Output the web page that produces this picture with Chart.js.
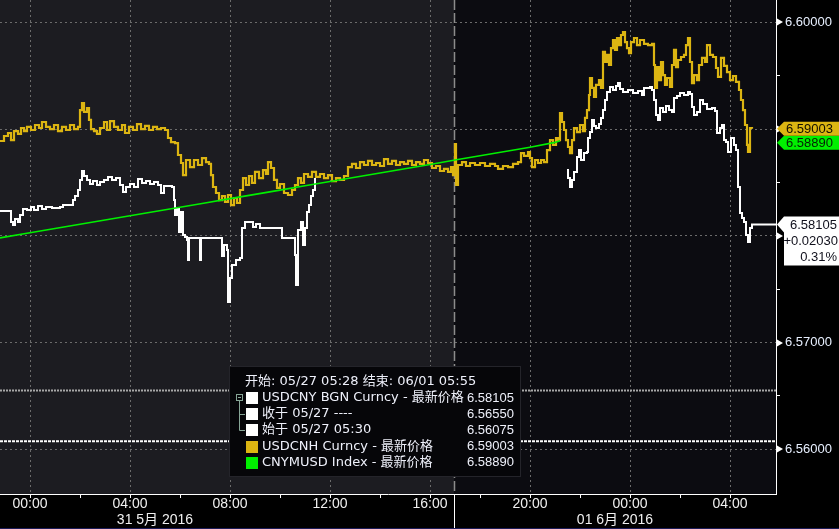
<!DOCTYPE html>
<html>
<head>
<meta charset="utf-8">
<script src="https://cdn.jsdelivr.net/npm/chart.js@4.4.1/dist/chart.umd.min.js"></script>
<style>
  html, body { margin: 0; padding: 0; background: #000; }
  canvas { display: block; }
</style>
</head>
<body>
<canvas id="chart" width="839" height="529"></canvas>
<script>
// time axis: hours from 05/31 00:00 (chart local time)
const xMin = -1.2;
const xMax = 29.84;
const yMin = 6.555811;
const yMax = 6.602089;
const sessionSplit = 16.96; // 16:58, start of the darker session

// USDCNH Curncy (gold)
const cnhTime = [
  -1.20,-1.04,-0.88,-0.76,-0.64,-0.48,-0.36,-0.24,-0.12,0.04,
  0.20,0.36,0.48,0.64,0.80,0.96,1.12,1.28,1.44,1.60,
  1.76,1.92,2.00,2.08,2.16,2.28,2.36,2.44,2.56,2.68,
  2.80,2.96,3.08,3.20,3.36,3.52,3.68,3.80,3.96,4.12,
  4.28,4.44,4.60,4.76,4.92,5.08,5.24,5.40,5.52,5.64,
  5.80,5.92,6.04,6.12,6.24,6.40,6.56,6.72,6.88,7.04,
  7.16,7.24,7.32,7.44,7.56,7.68,7.80,7.92,8.04,8.16,
  8.28,8.40,8.52,8.64,8.76,8.88,9.00,9.16,9.32,9.44,
  9.52,9.64,9.76,9.88,10.00,10.16,10.32,10.48,10.60,10.72,
  10.84,10.96,11.12,11.28,11.44,11.60,11.76,11.92,12.08,12.24,
  12.40,12.56,12.72,12.88,13.04,13.20,13.36,13.52,13.68,13.84,
  14.00,14.16,14.32,14.48,14.64,14.80,14.96,15.12,15.28,15.44,
  15.60,15.76,15.92,16.08,16.24,16.40,16.56,16.72,16.84,16.92,
  17.00,17.04,17.12,17.28,17.44,17.60,17.80,18.00,18.20,18.40,
  18.60,18.72,18.92,19.12,19.32,19.52,19.64,19.76,19.92,20.00,
  20.08,20.20,20.32,20.44,20.56,20.68,20.80,20.92,21.04,21.12,
  21.20,21.28,21.36,21.44,21.52,21.60,21.68,21.76,21.88,22.00,
  22.12,22.20,22.28,22.36,22.40,22.48,22.56,22.64,22.76,22.84,
  22.92,23.00,23.08,23.16,23.24,23.32,23.40,23.48,23.56,23.64,
  23.72,23.80,23.88,23.96,24.04,24.16,24.28,24.40,24.56,24.72,
  24.88,24.96,25.00,25.08,25.16,25.24,25.32,25.40,25.48,25.60,
  25.68,25.76,25.84,25.92,26.04,26.16,26.24,26.32,26.40,26.48,
  26.56,26.68,26.76,26.88,27.00,27.08,27.20,27.32,27.44,27.52,
  27.64,27.76,27.88,28.00,28.12,28.24,28.36,28.44,28.52,28.60,
  28.68,28.72,28.80,28.88
];
const cnhValue = [
  6.58888,6.58935,6.58963,6.58897,6.58981,6.58954,6.59010,6.58981,6.59020,6.58991,
  6.59038,6.59010,6.59066,6.59020,6.59000,6.59038,6.58981,6.59020,6.58991,6.59038,
  6.59000,6.59020,6.59178,6.59244,6.59160,6.59197,6.59085,6.59000,6.58981,6.58954,
  6.59010,6.59066,6.58991,6.59075,6.59020,6.58991,6.59038,6.58963,6.59020,6.58991,
  6.59047,6.59000,6.59029,6.58991,6.59020,6.59000,6.59010,6.58991,6.58916,6.58878,
  6.58869,6.58757,6.58682,6.58569,6.58710,6.58644,6.58710,6.58663,6.58728,6.58691,
  6.58673,6.58569,6.58457,6.58401,6.58335,6.58373,6.58317,6.58382,6.58288,6.58354,
  6.58307,6.58429,6.58541,6.58476,6.58560,6.58495,6.58598,6.58541,6.58616,6.58579,
  6.58691,6.58635,6.58523,6.58448,6.58485,6.58401,6.58382,6.58429,6.58476,6.58541,
  6.58495,6.58579,6.58551,6.58598,6.58551,6.58579,6.58541,6.58569,6.58513,6.58541,
  6.58523,6.58560,6.58644,6.58673,6.58635,6.58691,6.58663,6.58701,6.58663,6.58682,
  6.58654,6.58719,6.58673,6.58701,6.58663,6.58691,6.58673,6.58701,6.58663,6.58691,
  6.58673,6.58710,6.58682,6.58635,6.58654,6.58607,6.58626,6.58598,6.58644,6.58569,
  6.58860,6.58476,6.58663,6.58691,6.58654,6.58682,6.58663,6.58682,6.58654,6.58673,
  6.58654,6.58626,6.58654,6.58644,6.58673,6.58691,6.58775,6.58748,6.58785,6.58728,
  6.58644,6.58710,6.58682,6.58710,6.58691,6.58803,6.58897,6.58851,6.58916,6.58897,
  6.59150,6.59066,6.58991,6.58897,6.58832,6.58775,6.58897,6.59010,6.58972,6.59038,
  6.58981,6.59104,6.59178,6.59319,6.59478,6.59385,6.59300,6.59413,6.59459,6.59385,
  6.59722,6.59628,6.59694,6.59600,6.59759,6.59834,6.59741,6.59853,6.59787,6.59881,
  6.59909,6.59815,6.59759,6.59712,6.59815,6.59853,6.59787,6.59834,6.59797,6.59787,
  6.59797,6.59600,6.59385,6.59581,6.59459,6.59628,6.59506,6.59413,6.59478,6.59394,
  6.59600,6.59741,6.59581,6.59647,6.59675,6.59694,6.59787,6.59853,6.59628,6.59431,
  6.59506,6.59459,6.59600,6.59666,6.59628,6.59787,6.59694,6.59675,6.59572,6.59488,
  6.59666,6.59591,6.59534,6.59459,6.59497,6.59441,6.59366,6.59272,6.59178,6.59038,
  6.58851,6.58785,6.59010,6.59003
];

// USDCNY BGN Curncy (white), null = onshore market closed
const cnyTime = [
  -1.20,-0.80,-0.76,-0.68,-0.60,-0.48,-0.40,-0.28,-0.12,0.04,
  0.16,0.32,0.48,0.64,0.88,1.20,1.32,1.60,1.72,1.80,
  1.92,2.00,2.08,2.16,2.28,2.40,2.52,2.68,2.80,2.96,
  3.12,3.28,3.44,3.60,3.72,3.84,4.00,4.16,4.32,4.48,
  4.64,4.80,4.96,5.12,5.24,5.36,5.52,5.68,5.76,5.80,
  5.88,5.96,6.04,6.12,6.20,6.28,6.32,6.36,6.76,6.80,
  6.84,7.64,7.68,7.76,7.88,7.92,8.00,8.08,8.24,8.40,
  8.48,8.60,8.88,8.92,9.04,9.20,10.00,10.08,10.52,10.60,
  10.64,10.72,10.84,10.92,11.00,11.08,11.16,11.24,11.32,11.40,
  16.00,21.48,21.52,21.60,21.68,21.76,21.88,21.96,22.04,22.16,
  22.28,22.32,22.40,22.48,22.56,22.64,22.76,22.84,22.92,23.00,
  23.08,23.20,23.32,23.44,23.52,23.60,23.72,23.92,24.12,24.32,
  24.48,24.56,24.80,24.88,24.96,25.04,25.12,25.20,25.32,25.44,
  25.56,25.68,25.76,25.88,26.00,26.16,26.32,26.40,26.48,26.56,
  26.68,26.80,26.92,27.08,27.28,27.40,27.48,27.60,27.68,27.76,
  27.84,27.92,28.04,28.16,28.24,28.32,28.40,28.48,28.56,28.64,
  28.72,28.80,28.88,29.84
];
const cnyValue = [
  6.58232,6.58232,6.58129,6.58101,6.58157,6.58129,6.58195,6.58251,6.58242,6.58270,
  6.58242,6.58279,6.58251,6.58270,6.58260,6.58270,6.58288,6.58288,6.58335,6.58373,
  6.58429,6.58523,6.58607,6.58560,6.58523,6.58485,6.58513,6.58476,6.58504,6.58523,
  6.58551,6.58523,6.58541,6.58476,6.58410,6.58457,6.58485,6.58457,6.58532,6.58495,
  6.58513,6.58485,6.58504,6.58476,6.58401,6.58467,6.58467,6.58457,6.58335,6.58195,
  6.58260,6.58036,6.58223,6.58007,6.57989,6.57961,6.57773,6.57979,6.57979,6.57773,
  6.57979,6.57979,6.57811,6.57914,6.57867,6.57380,6.57605,6.57726,6.57773,6.57792,
  6.58073,6.58129,6.58129,6.58082,6.58110,6.58073,6.58073,6.57979,6.57979,6.57820,
  6.57539,6.58054,6.58129,6.57914,6.58073,6.58223,6.58288,6.58373,6.58429,6.58541,
  null,6.58616,6.58541,6.58457,6.58523,6.58598,6.58738,6.58803,6.58710,6.58775,
  6.58785,6.58916,6.58972,6.59085,6.59029,6.59010,6.59047,6.59104,6.59178,6.59272,
  6.59347,6.59394,6.59366,6.59403,6.59431,6.59375,6.59347,6.59366,6.59338,6.59356,
  6.59319,6.59385,6.59394,6.59366,6.59272,6.59132,6.59085,6.59197,6.59160,6.59216,
  6.59178,6.59160,6.59291,6.59310,6.59338,6.59319,6.59347,6.59328,6.59206,6.59132,
  6.59160,6.59272,6.59235,6.59188,6.59197,6.59169,6.58963,6.59010,6.59038,6.58897,
  6.58878,6.58785,6.58916,6.58851,6.58803,6.58457,6.58213,6.58167,6.58129,6.58007,
  6.57942,6.58073,6.58105,6.58105
];

// CNYMUSD Index (green)
const cnymTime = [-1.2, 0, 1, 2, 3, 4, 5, 6, 7, 8, 9, 10, 11, 12, 13, 14, 15, 16, 17, 18, 19, 20, 21, 21.2];
const cnymValue = [
  6.57980, 6.58028, 6.58068, 6.58108, 6.58148, 6.58188, 6.58228, 6.58268, 6.58308, 6.58348,
  6.58388, 6.58428, 6.58468, 6.58508, 6.58548, 6.58588, 6.58628, 6.58668, 6.58710, 6.58750,
  6.58790, 6.58830, 6.58875, 6.58890
];

// USDCNY reference levels
const cnyClose = 6.56550; // 收于 05/27
const cnyStart = 6.56075; // 始于 05/27 05:30

const legendHeader = '开始: 05/27 05:28 结束: 06/01 05:55';
const legendNames = [
  'USDCNY BGN Curncy - 最新价格',
  '收于 05/27 ----',
  '始于 05/27 05:30',
  'USDCNH Curncy - 最新价格',
  'CNYMUSD Index - 最新价格'
];
const dateLabels = ['31 5月 2016', '01 6月 2016'];
const dateLabelAt = [5.0, 23.4];

const FONT = '"Liberation Sans", Arial, "Noto Sans CJK SC", sans-serif';
const LEGEND_FONT = '"DejaVu Sans", "Noto Sans CJK SC", sans-serif';
const GOLD = '#dcb512';
const GREEN = '#00f000';

const pts = (t, v) => t.map((x, i) => ({ x: x, y: v[i] }));
const last = arr => arr[arr.length - 1];
const isMajorY = v => Math.abs(v * 100 - Math.round(v * 100)) < 1e-6;
const hh = v => {
  const h = ((Math.round(v) % 24) + 24) % 24;
  return (h < 10 ? '0' : '') + h + ':00';
};

function tag(ctx, yc, fill, text, color) {
  ctx.fillStyle = fill;
  ctx.beginPath();
  ctx.moveTo(777, yc);
  ctx.lineTo(784, yc - 7);
  ctx.lineTo(839, yc - 7);
  ctx.lineTo(839, yc + 7);
  ctx.lineTo(784, yc + 7);
  ctx.closePath();
  ctx.fill();
  ctx.fillStyle = color;
  ctx.textAlign = 'left';
  ctx.fillText(text, 786, yc + 0.5);
}

const decor = {
  id: 'decor',
  beforeDraw(chart) {
    const { ctx, chartArea: a, scales: { x } } = chart;
    const sx = x.getPixelForValue(sessionSplit);
    ctx.save();
    ctx.fillStyle = '#000';
    ctx.fillRect(0, 0, chart.width, chart.height);
    ctx.fillStyle = '#1c1c21';
    ctx.fillRect(a.left, a.top, sx - a.left, a.bottom - a.top);
    ctx.fillStyle = '#0c0c11';
    ctx.fillRect(sx, a.top, a.right - sx, a.bottom - a.top);
    ctx.restore();
  },
  beforeDatasetsDraw(chart) {
    const { ctx, chartArea: a, scales: { x } } = chart;
    const sx = Math.round(x.getPixelForValue(sessionSplit)) + 0.5;
    ctx.save();
    ctx.strokeStyle = '#8c8c8c';
    ctx.lineWidth = 1.5;
    ctx.setLineDash([10, 3]);
    ctx.beginPath();
    ctx.moveTo(sx, a.top);
    ctx.lineTo(sx, a.bottom);
    ctx.stroke();
    ctx.restore();
  },
  afterDraw(chart) {
    const { ctx, chartArea: a, scales: { x, y } } = chart;
    ctx.save();

    // session line under the time axis
    const sx = Math.round(x.getPixelForValue(sessionSplit)) + 0.5;
    ctx.strokeStyle = '#fff';
    ctx.lineWidth = 1;
    ctx.beginPath();
    ctx.moveTo(sx, a.bottom);
    ctx.lineTo(sx, chart.height);
    ctx.stroke();
    ctx.fillStyle = '#1c1c58';
    ctx.fillRect(0, chart.height - 1, chart.width, 1);

    // day labels
    ctx.font = '14px ' + FONT;
    ctx.fillStyle = '#f0f0f0';
    ctx.textAlign = 'center';
    ctx.textBaseline = 'middle';
    dateLabels.forEach((s, i) => ctx.fillText(s, x.getPixelForValue(dateLabelAt[i]), 520));

    // arrow marks on the price axis
    ctx.fillStyle = '#fff';
    y.ticks.forEach(t => {
      if (!isMajorY(t.value)) return;
      const py = Math.round(y.getPixelForValue(t.value));
      ctx.beginPath();
      ctx.moveTo(777, py - 3.5);
      ctx.lineTo(783, py);
      ctx.lineTo(777, py + 3.5);
      ctx.closePath();
      ctx.fill();
    });

    // last value tags
    ctx.font = '13px ' + FONT;
    ctx.textBaseline = 'middle';
    const yGold = y.getPixelForValue(last(cnhValue));
    const yGreen = Math.max(y.getPixelForValue(last(cnymValue)), yGold + 14);
    tag(ctx, yGreen, GREEN, last(cnymValue).toFixed(5), '#062006');
    tag(ctx, yGold, GOLD, last(cnhValue).toFixed(5), '#140f00');

    const lastCny = last(cnyValue);
    const yw = y.getPixelForValue(lastCny);
    const chg = lastCny - cnyStart;
    ctx.fillStyle = '#fff';
    ctx.beginPath();
    ctx.moveTo(777, yw);
    ctx.lineTo(784, yw - 8);
    ctx.lineTo(839, yw - 8);
    ctx.lineTo(839, yw + 41);
    ctx.lineTo(784, yw + 41);
    ctx.lineTo(784, yw + 8);
    ctx.closePath();
    ctx.fill();
    ctx.fillStyle = '#10101c';
    ctx.textAlign = 'right';
    ctx.fillText(lastCny.toFixed(5), 837, yw + 0.5);
    ctx.fillText((chg >= 0 ? '+' : '') + chg.toFixed(5), 838, yw + 16.5);
    ctx.fillText((chg / cnyStart * 100).toFixed(2) + '%', 837, yw + 32.5);

    // legend panel
    const L = 229, T = 366, W = 292, H = 111;
    ctx.fillStyle = '#060609';
    ctx.fillRect(L, T, W, H);
    ctx.strokeStyle = '#24242a';
    ctx.strokeRect(L + 0.5, T + 0.5, W - 1, H - 1);
    ctx.font = '13px ' + LEGEND_FONT;
    ctx.fillStyle = '#eef0fa';
    ctx.textAlign = 'left';
    ctx.fillText(legendHeader, 245, 382);

    const rowY = [398, 414, 430, 446.5, 462.5];
    const rowColor = ['#fff', '#fff', '#fff', GOLD, GREEN];
    const rowValue = [last(cnyValue), cnyClose, cnyStart, last(cnhValue), last(cnymValue)];
    rowY.forEach((ry, i) => {
      ctx.fillStyle = rowColor[i];
      ctx.fillRect(246, Math.round(ry - 6), 12, 12);
      ctx.fillStyle = '#eef0fa';
      ctx.textAlign = 'left';
      ctx.font = '13px ' + LEGEND_FONT;
      ctx.fillText(legendNames[i], 262, ry);
      ctx.textAlign = 'right';
      ctx.font = '13px ' + FONT;
      ctx.fillText(rowValue[i].toFixed(5), 514, ry);
    });

    // tree connector for the USDCNY group
    ctx.strokeStyle = '#86a596';
    ctx.lineWidth = 1;
    ctx.strokeRect(236.5, 394.5, 6, 6);
    ctx.beginPath();
    ctx.moveTo(238, 397.5); ctx.lineTo(241, 397.5);
    ctx.moveTo(239.5, 401); ctx.lineTo(239.5, 430.5);
    ctx.moveTo(239.5, 414.5); ctx.lineTo(245, 414.5);
    ctx.moveTo(239.5, 430.5); ctx.lineTo(245, 430.5);
    ctx.stroke();

    ctx.restore();
  }
};

new Chart(document.getElementById('chart').getContext('2d'), {
  type: 'line',
  data: {
    datasets: [
      {
        label: 'CNYMUSD Index',
        data: pts(cnymTime, cnymValue),
        borderColor: GREEN,
        borderWidth: 1.6,
        pointRadius: 0,
        order: 0
      },
      {
        label: 'USDCNH Curncy',
        data: pts(cnhTime, cnhValue),
        borderColor: GOLD,
        borderWidth: 2.2,
        stepped: true,
        pointRadius: 0,
        order: 1
      },
      {
        label: 'USDCNY BGN Curncy',
        data: pts(cnyTime, cnyValue),
        borderColor: '#ffffff',
        borderWidth: 2,
        stepped: true,
        spanGaps: false,
        pointRadius: 0,
        order: 2
      },
      {
        label: '收于 05/27',
        data: [{ x: xMin, y: cnyClose }, { x: xMax, y: cnyClose }],
        borderColor: '#a8a8a8',
        borderWidth: 2,
        borderDash: [2, 1],
        pointRadius: 0,
        order: 3
      },
      {
        label: '始于 05/27 05:30',
        data: [{ x: xMin, y: cnyStart }, { x: xMax, y: cnyStart }],
        borderColor: '#ffffff',
        borderWidth: 2,
        borderDash: [3, 1],
        pointRadius: 0,
        order: 4
      }
    ]
  },
  options: {
    responsive: false,
    animation: false,
    layout: { padding: 0 },
    plugins: { legend: { display: false }, tooltip: { enabled: false } },
    scales: {
      x: {
        type: 'linear',
        min: xMin,
        max: xMax,
        ticks: {
          stepSize: 2,
          includeBounds: false,
          autoSkip: false,
          maxRotation: 0,
          padding: -2,
          color: '#f0f0f0',
          font: { family: FONT, size: 14 },
          callback: v => (v % 4 === 0 ? hh(v) : '')
        },
        grid: {
          color: c => (c.tick && c.tick.value % 4 === 0 ? '#6c6c6c' : 'transparent'),
          lineWidth: 1,
          tickColor: '#ffffff',
          tickLength: 4
        },
        border: { color: '#ffffff', width: 1, dash: [2, 3] },
        afterFit: s => { s.height = 35; s.paddingLeft = 0; s.paddingRight = 0; }
      },
      y: {
        position: 'right',
        min: yMin,
        max: yMax,
        ticks: {
          stepSize: 0.005,
          includeBounds: false,
          padding: 5,
          color: '#e8f0ff',
          font: { family: FONT, size: 13 },
          callback: v => (isMajorY(v) ? v.toFixed(5) : '')
        },
        grid: {
          color: c => (c.tick && isMajorY(c.tick.value) ? '#6c6c6c' : 'transparent'),
          lineWidth: 1,
          tickColor: '#ffffff',
          tickLength: 4
        },
        border: { color: '#ffffff', width: 1, dash: [2, 3] },
        afterFit: s => { s.width = 63; s.paddingTop = 0; s.paddingBottom = 0; }
      }
    }
  },
  plugins: [decor]
});
</script>
</body>
</html>
